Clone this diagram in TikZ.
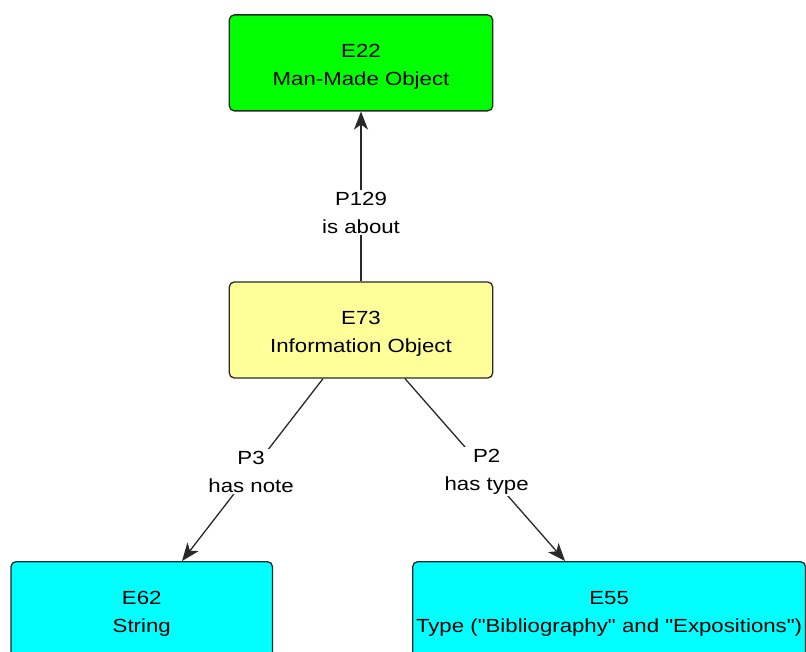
\documentclass[tikz,border=0pt]{standalone}
\usepackage{fontspec}
\setmainfont{Liberation Sans}[FakeStretch=1.17, Ligatures=TeXOff]
\usetikzlibrary{arrows.meta}
\definecolor{boxgreen}{RGB}{0,255,0}
\definecolor{boxyellow}{RGB}{255,255,153}
\definecolor{boxcyan}{RGB}{0,255,255}
\definecolor{edgegray}{RGB}{40,40,40}
\newcommand{\lowered}[1]{\raisebox{-4pt}[\height][\depth]{#1}}
\tikzset{
  entity/.style={draw=edgegray, line width=1.3pt, rounded corners=5pt,
    inner sep=0pt, align=center, text=black,
    font=\fontsize{19}{27.5}\selectfont},
  widebox/.style={entity, minimum width=263.4pt, minimum height=96pt},
  rel/.style={draw=edgegray, line width=1.3pt},
  relarrow/.style={rel, -{Stealth[length=18pt, width=14pt, inset=5pt]}},
  rellabel/.style={fill=white, inner sep=2pt, align=center, text=black,
    font=\fontsize{19}{28}\selectfont}
}
\begin{document}
\begin{tikzpicture}[x=1pt, y=-1pt]
\useasboundingbox (0,0) rectangle (806,652);
\clip (0,0) rectangle (806,652);
\node[widebox, fill=boxgreen] (e22) at (361,62.9) {\lowered{E22}\\\lowered{Man-Made Object}};
\node[widebox, fill=boxyellow] (e73) at (361,330) {\lowered{E73}\\\lowered{Information Object}};
\node[entity, fill=boxcyan, minimum width=261.5pt, minimum height=96pt] (e62) at (141.75,609.7) {\lowered{E62}\\\lowered{String}};
\node[entity, fill=boxcyan, minimum width=392.8pt, minimum height=96pt] (e55) at (609.1,609.7) {\lowered{E55}\\\lowered{Type ("Bibliography" and "Expositions")}};
\draw[relarrow] (e73.north) -- node[rellabel, pos=0.404] (l129) {P129\\is about} (e22.south);
\draw[relarrow] ([xshift=-38pt]e73.south) -- node[rellabel, pos=0.51] (l3) {P3\\has note} ([xshift=40.25pt]e62.north);
\draw[relarrow] ([xshift=44pt]e73.south) -- node[rellabel, pos=0.51] (l2) {P2\\has type} ([xshift=-44pt]e55.north);
\end{tikzpicture}
\end{document}
